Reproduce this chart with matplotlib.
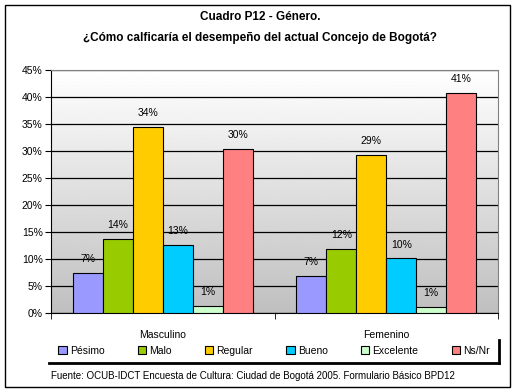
import numpy as np
import matplotlib.pyplot as plt
from matplotlib.lines import Line2D
from matplotlib.patches import Rectangle

plt.rcParams['font.family'] = ['Liberation Sans', 'DejaVu Sans']

grupos = ['Masculino', 'Femenino']
respuestas = ['Pésimo', 'Malo', 'Regular', 'Bueno', 'Excelente', 'Ns/Nr']
colores = ['#9999ff', '#99cc00', '#ffcc00', '#00ccff', '#ccffcc', '#ff8080']
masculino = [7.4, 13.7, 34.4, 12.6, 1.3, 30.4]
femenino = [6.9, 11.9, 29.3, 10.1, 1.2, 40.7]
etiq_masc = ['7%', '14%', '34%', '13%', '1%', '30%']
etiq_fem = ['7%', '12%', '29%', '10%', '1%', '41%']

fig = plt.figure(figsize=(5.15, 3.91), dpi=100)
ax = fig.add_axes([51 / 515, 1 - 313 / 391, 447 / 515, 243 / 391])

# fondo degradado del area de grafico
grad = np.linspace(0.75, 1.0, 256).reshape(-1, 1)
ax.imshow(grad, cmap='gray', vmin=0, vmax=1, origin='lower', aspect='auto',
          extent=(-0.5, 1.5, 0, 45), zorder=0)

w = 0.134
x = np.arange(len(grupos))
datos = list(zip(masculino, femenino))
etiquetas = list(zip(etiq_masc, etiq_fem))
for i, resp in enumerate(respuestas):
    pos = x + (i - 2.5) * w
    bars = ax.bar(pos, datos[i], w, color=colores[i], edgecolor='black',
                  linewidth=0.8, label=resp, zorder=3)
    for b, txt in zip(bars, etiquetas[i]):
        ax.annotate(txt, (b.get_x() + w / 2, b.get_height()), xytext=(0, 10),
                    textcoords='offset points', ha='center', va='center',
                    fontsize=7.5, zorder=4)

ax.set_xlim(-0.5, 1.5)
ax.set_ylim(0, 45)
ax.set_yticks(range(0, 50, 5))
ax.set_yticklabels([f'{t}%' for t in range(0, 50, 5)], fontsize=7.5)
ax.yaxis.grid(True, color='black', linewidth=0.9, zorder=1)
ax.set_axisbelow(True)
ax.set_xticks(x)
ax.set_xticklabels(grupos, fontsize=7.5)
ax.set_xticks([-0.5, 0.5, 1.5], minor=True)
ax.tick_params(axis='x', which='major', length=0, pad=12)
ax.tick_params(axis='x', which='minor', length=4, direction='out')
ax.tick_params(axis='y', length=4, direction='out', pad=2)
ax.spines['top'].set_color('#808080')
ax.spines['right'].set_color('#808080')

fig.legend(loc='center', bbox_to_anchor=(274 / 515, 1 - 351 / 391), ncol=6,
           frameon=False, fontsize=7.5, handlelength=0.8, handleheight=0.8,
           handletextpad=0.3, columnspacing=3.2)

# sombra del cuadro de leyenda
fig.add_artist(Line2D([49 / 515, 499 / 515], [1 - 363 / 391] * 2,
                      color='black', linewidth=2))
fig.add_artist(Line2D([499 / 515] * 2, [1 - 363 / 391, 1 - 340 / 391],
                      color='black', linewidth=2))

fig.text(260 / 515, 1 - 17 / 391, 'Cuadro P12 - Género.', ha='center',
         va='center', fontsize=8.5, fontweight='bold')
fig.text(260 / 515, 1 - 38 / 391,
         '¿Cómo calficaría el desempeño del actual Concejo de Bogotá?',
         ha='center', va='center', fontsize=8.5, fontweight='bold')
fig.text(51 / 515, 1 - 376 / 391,
         'Fuente: OCUB-IDCT Encuesta de Cultura: Ciudad de Bogotá 2005. Formulario Básico BPD12',
         ha='left', va='center', fontsize=7)

fig.add_artist(Rectangle((5 / 515, 4 / 391), 505 / 515, 382 / 391,
                         transform=fig.transFigure, fill=False,
                         edgecolor='black', linewidth=1))

fig.savefig('out.png', dpi=100)
